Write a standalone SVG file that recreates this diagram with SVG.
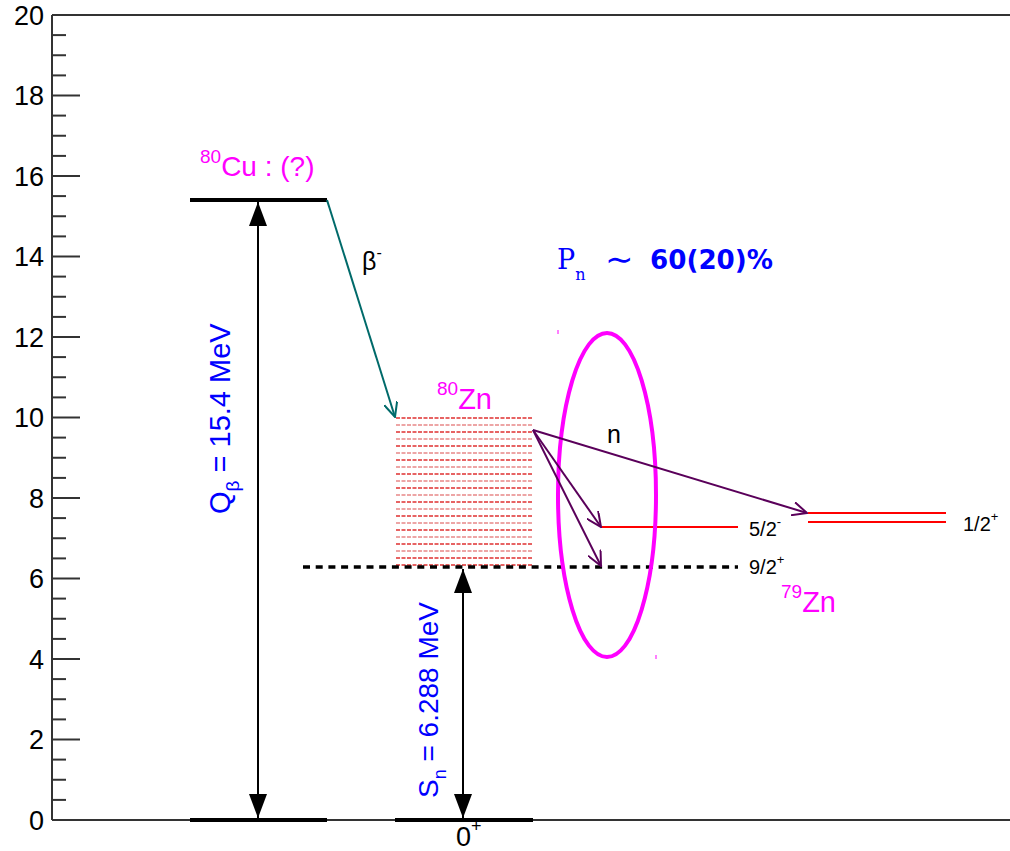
<svg xmlns="http://www.w3.org/2000/svg" width="1010" height="851" viewBox="0 0 1010 851">
<defs>
<style>
.ax{stroke:#333;stroke-width:2;fill:none}
.tk{stroke:#333;stroke-width:2}
.num{font-family:"Liberation Sans",Arial,sans-serif;font-size:27px;fill:#000;text-anchor:end}
.lvl{stroke:#000;stroke-width:4}
.red{stroke:#ff0000;stroke-width:2}
.zn{stroke:#e03030;stroke-width:1.3;stroke-dasharray:4,1.5}
.zn2{stroke:#e88888;stroke-width:1.3;stroke-dasharray:4,1.5}
.sans{font-family:"Liberation Sans",Arial,sans-serif}
.mag{fill:#ff00ff}
.blue{fill:#0000ff}
.dbl{stroke:#000;stroke-width:2}
.nar{stroke:#5a005a;stroke-width:2;fill:none}
.spin{font-family:"Liberation Sans",Arial,sans-serif;font-size:20px;fill:#000}
</style>
<marker id="tri" viewBox="0 0 24 18" refX="24" refY="9" markerWidth="24" markerHeight="18" markerUnits="userSpaceOnUse" orient="auto-start-reverse">
<path d="M0,0 L24,9 L0,18 Z" fill="#000"/>
</marker>
<marker id="vt" viewBox="0 0 16 14" refX="15" refY="7" markerWidth="16" markerHeight="14" markerUnits="userSpaceOnUse" orient="auto">
<path d="M0,0 L15,7 L0,14" fill="none" stroke="#006a6a" stroke-width="2"/>
</marker>
<marker id="vp" viewBox="0 0 16 14" refX="15" refY="7" markerWidth="16" markerHeight="14" markerUnits="userSpaceOnUse" orient="auto">
<path d="M0,0 L15,7 L0,14" fill="none" stroke="#5a005a" stroke-width="2"/>
</marker>
</defs>
<rect width="1010" height="851" fill="#fff"/>

<g id="axis">
<line class="ax" x1="52" y1="15" x2="1010" y2="15"/>
<line class="ax" x1="52" y1="15" x2="52" y2="820"/>
<line class="ax" x1="52" y1="820" x2="1010" y2="820"/>
<g class="tk">
<line x1="52" y1="820" x2="80" y2="820"/><line x1="52" y1="799.9" x2="66" y2="799.9"/><line x1="52" y1="779.75" x2="66" y2="779.75"/><line x1="52" y1="759.6" x2="66" y2="759.6"/>
<line x1="52" y1="739.5" x2="80" y2="739.5"/><line x1="52" y1="719.4" x2="66" y2="719.4"/><line x1="52" y1="699.25" x2="66" y2="699.25"/><line x1="52" y1="679.1" x2="66" y2="679.1"/>
<line x1="52" y1="659" x2="80" y2="659"/><line x1="52" y1="638.9" x2="66" y2="638.9"/><line x1="52" y1="618.75" x2="66" y2="618.75"/><line x1="52" y1="598.6" x2="66" y2="598.6"/>
<line x1="52" y1="578.5" x2="80" y2="578.5"/><line x1="52" y1="558.4" x2="66" y2="558.4"/><line x1="52" y1="538.25" x2="66" y2="538.25"/><line x1="52" y1="518.1" x2="66" y2="518.1"/>
<line x1="52" y1="498" x2="80" y2="498"/><line x1="52" y1="477.9" x2="66" y2="477.9"/><line x1="52" y1="457.75" x2="66" y2="457.75"/><line x1="52" y1="437.6" x2="66" y2="437.6"/>
<line x1="52" y1="417.5" x2="80" y2="417.5"/><line x1="52" y1="397.4" x2="66" y2="397.4"/><line x1="52" y1="377.25" x2="66" y2="377.25"/><line x1="52" y1="357.1" x2="66" y2="357.1"/>
<line x1="52" y1="337" x2="80" y2="337"/><line x1="52" y1="316.9" x2="66" y2="316.9"/><line x1="52" y1="296.75" x2="66" y2="296.75"/><line x1="52" y1="276.6" x2="66" y2="276.6"/>
<line x1="52" y1="256.5" x2="80" y2="256.5"/><line x1="52" y1="236.4" x2="66" y2="236.4"/><line x1="52" y1="216.25" x2="66" y2="216.25"/><line x1="52" y1="196.1" x2="66" y2="196.1"/>
<line x1="52" y1="176" x2="80" y2="176"/><line x1="52" y1="155.9" x2="66" y2="155.9"/><line x1="52" y1="135.75" x2="66" y2="135.75"/><line x1="52" y1="115.6" x2="66" y2="115.6"/>
<line x1="52" y1="95.5" x2="80" y2="95.5"/><line x1="52" y1="75.4" x2="66" y2="75.4"/><line x1="52" y1="55.25" x2="66" y2="55.25"/><line x1="52" y1="35.1" x2="66" y2="35.1"/>
<line x1="52" y1="15" x2="80" y2="15"/>
</g>
<g class="num">
<text x="44" y="830">0</text>
<text x="44" y="749">2</text>
<text x="44" y="669">4</text>
<text x="44" y="588">6</text>
<text x="44" y="508">8</text>
<text x="44" y="427">10</text>
<text x="44" y="347">12</text>
<text x="44" y="266">14</text>
<text x="44" y="186">16</text>
<text x="44" y="105">18</text>
<text x="44" y="25">20</text>
</g>
</g>

<g id="cu80">
<line class="lvl" x1="190" y1="200" x2="327" y2="200"/>
<text class="sans mag" x="200" y="176" font-size="28"><tspan font-size="19" dy="-13">80</tspan><tspan dy="13">Cu : (?)</tspan></text>
</g>

<g id="ground">
<line class="lvl" x1="190" y1="820" x2="327" y2="820"/>
<line class="lvl" x1="395" y1="820" x2="533" y2="820"/>
<text class="sans" x="456" y="846" font-size="27">0<tspan font-size="18" dy="-14">+</tspan></text>
</g>

<g id="zn80">
<g>
<line class="zn" x1="396" y1="418" x2="533" y2="418"/>
<line class="zn2" x1="396" y1="425" x2="533" y2="425"/>
<line class="zn" x1="396" y1="432" x2="533" y2="432"/>
<line class="zn2" x1="396" y1="439" x2="533" y2="439"/>
<line class="zn" x1="396" y1="446" x2="533" y2="446"/>
<line class="zn2" x1="396" y1="453" x2="533" y2="453"/>
<line class="zn" x1="396" y1="460" x2="533" y2="460"/>
<line class="zn2" x1="396" y1="467" x2="533" y2="467"/>
<line class="zn" x1="396" y1="474" x2="533" y2="474"/>
<line class="zn2" x1="396" y1="481" x2="533" y2="481"/>
<line class="zn" x1="396" y1="488" x2="533" y2="488"/>
<line class="zn2" x1="396" y1="495" x2="533" y2="495"/>
<line class="zn" x1="396" y1="502" x2="533" y2="502"/>
<line class="zn2" x1="396" y1="509" x2="533" y2="509"/>
<line class="zn" x1="396" y1="516" x2="533" y2="516"/>
<line class="zn2" x1="396" y1="523" x2="533" y2="523"/>
<line class="zn" x1="396" y1="530" x2="533" y2="530"/>
<line class="zn2" x1="396" y1="537" x2="533" y2="537"/>
<line class="zn" x1="396" y1="544" x2="533" y2="544"/>
<line class="zn2" x1="396" y1="551" x2="533" y2="551"/>
<line class="zn" x1="396" y1="558" x2="533" y2="558"/>
<line class="zn" x1="396" y1="565" x2="533" y2="565"/>
</g>
<text class="sans mag" x="437" y="409" font-size="29"><tspan font-size="19" dy="-14">80</tspan><tspan dy="14">Zn</tspan></text>
</g>

<g id="sn-level">
<line x1="303" y1="567" x2="738" y2="567" stroke="#000" stroke-width="3.5" stroke-dasharray="7,5.7"/>
<text class="spin" x="749" y="574">9/2<tspan font-size="13" dy="-10">+</tspan></text>
</g>

<g id="zn79">
<line class="red" x1="602" y1="527" x2="738" y2="527"/>
<text class="spin" x="749" y="536">5/2<tspan font-size="13" dy="-10">-</tspan></text>
<line class="red" x1="808" y1="513" x2="946" y2="513"/>
<line class="red" x1="808" y1="522" x2="946" y2="522"/>
<text class="spin" x="963" y="531">1/2<tspan font-size="13" dy="-10">+</tspan></text>
<text class="sans mag" x="781" y="612" font-size="29"><tspan font-size="19" dy="-14">79</tspan><tspan dy="14">Zn</tspan></text>
</g>

<g id="ellipse">
<ellipse cx="607" cy="495" rx="49" ry="162" fill="none" stroke="#ff00ff" stroke-width="4"/>
<line x1="558" y1="330" x2="558" y2="334" stroke="#ff00ff" stroke-width="1"/>
<line x1="656" y1="655" x2="656" y2="659" stroke="#ff00ff" stroke-width="1"/>
</g>

<g id="connectors">
<line class="dbl" x1="258" y1="202" x2="258" y2="818" marker-start="url(#tri)" marker-end="url(#tri)"/>
<line class="dbl" x1="463" y1="569" x2="463" y2="818" marker-start="url(#tri)" marker-end="url(#tri)"/>
<line x1="327" y1="200" x2="395" y2="417" stroke="#006a6a" stroke-width="2" marker-end="url(#vt)"/>
<line class="nar" x1="533" y1="430" x2="807" y2="513" marker-end="url(#vp)"/>
<line class="nar" x1="533" y1="430" x2="601" y2="527" marker-end="url(#vp)"/>
<line class="nar" x1="533" y1="430" x2="601" y2="566" marker-end="url(#vp)"/>
</g>

<g id="labels">
<text class="sans" x="362" y="270" font-size="25">β<tspan font-size="16" dy="-12">-</tspan></text>
<text class="sans" x="607" y="443" font-size="25">n</text>
<text class="sans blue" transform="translate(230,514) rotate(-90)" font-size="29">Q<tspan font-size="19" dy="9">β</tspan><tspan dy="-9"> = 15.4 MeV</tspan></text>
<text class="sans blue" transform="translate(438,798) rotate(-90)" font-size="28">S<tspan font-size="18" dy="8">n</tspan><tspan dy="-8"> = 6.288 MeV</tspan></text>
<text class="blue" x="557" y="269" font-size="27" font-family="DejaVu Serif,serif">P<tspan font-size="16" dy="11">n</tspan></text>
<text class="blue" x="605" y="271" font-size="34" font-family="DejaVu Sans,sans-serif">∼</text>
<text class="blue" x="650" y="269" font-size="26" font-family="DejaVu Sans,sans-serif" font-weight="bold" textLength="123" lengthAdjust="spacingAndGlyphs">60(20)%</text>
</g>
</svg>
